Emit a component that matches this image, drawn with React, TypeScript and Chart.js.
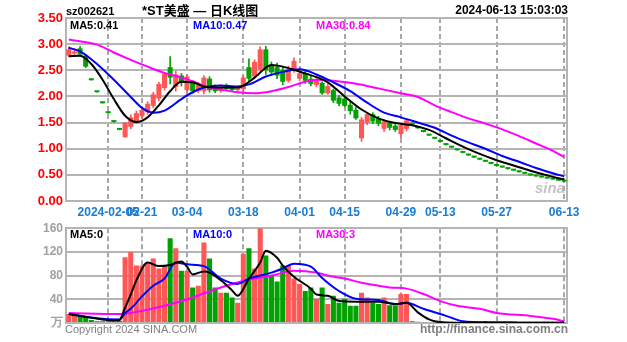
import React, { useEffect, useRef } from 'react';
import { Chart, registerables } from 'chart.js';

Chart.register(...registerables);

const dates = ['01-25','01-26','01-29','01-30','01-31','02-01','02-02','02-05','02-06','02-07','02-08','02-19','02-20','02-21','02-22','02-23','02-26','02-27','02-28','02-29','03-01','03-04','03-05','03-06','03-07','03-08','03-11','03-12','03-13','03-14','03-15','03-18','03-19','03-20','03-21','03-22','03-25','03-26','03-27','03-28','03-29','04-01','04-02','04-03','04-08','04-09','04-10','04-11','04-12','04-15','04-16','04-17','04-18','04-19','04-22','04-23','04-24','04-25','04-26','04-29','04-30','05-06','05-07','05-08','05-09','05-10','05-13','05-14','05-15','05-16','05-17','05-20','05-21','05-22','05-23','05-24','05-27','05-28','05-29','05-30','05-31','06-03','06-04','06-05','06-06','06-07','06-11','06-12','06-13'];

const labeledDates = ['02-05','02-21','03-04','03-18','04-01','04-15','04-29','05-13','05-27','06-13'];
const labeledTexts = ['2024-02-05','02-21','03-04','03-18','04-01','04-15','04-29','05-13','05-27','06-13'];

const opens = [2.78,2.82,2.92,2.78,2.31,2.08,1.87,1.68,1.51,1.36,1.22,1.42,1.52,1.62,1.70,1.82,1.96,2.16,2.56,2.18,2.40,2.12,2.26,2.10,2.10,2.34,2.18,2.10,2.20,2.17,2.12,2.14,2.56,2.38,2.52,2.90,2.60,2.56,2.50,2.30,2.50,2.34,2.44,2.34,2.22,2.26,2.06,2.12,1.98,1.96,1.84,1.74,1.20,1.50,1.66,1.58,1.38,1.50,1.44,1.28,1.38,1.46,1.39,1.32,1.25,1.19,1.13,1.07,1.02,0.97,0.92,0.87,0.83,0.79,0.75,0.71,0.67,0.64,0.61,0.58,0.55,0.52,0.49,0.47,0.45,0.43,0.41,0.39,0.37];
const highs = [2.95,2.92,2.96,2.80,2.31,2.08,1.87,1.68,1.51,1.36,1.50,1.65,1.72,1.78,1.90,2.08,2.27,2.46,2.76,2.48,2.44,2.42,2.30,2.27,2.40,2.38,2.22,2.22,2.24,2.20,2.19,2.40,2.72,2.70,2.95,2.96,2.66,2.64,2.56,2.58,2.74,2.56,2.48,2.40,2.34,2.28,2.24,2.14,2.02,2.00,1.90,1.80,1.60,1.69,1.69,1.62,1.56,1.52,1.48,1.48,1.56,1.46,1.39,1.32,1.25,1.19,1.13,1.07,1.02,0.97,0.92,0.87,0.83,0.79,0.75,0.71,0.67,0.64,0.61,0.58,0.55,0.52,0.49,0.47,0.45,0.43,0.41,0.39,0.37];
const lows = [2.76,2.78,2.78,2.55,2.31,2.08,1.87,1.68,1.51,1.36,1.22,1.38,1.48,1.58,1.66,1.78,1.92,2.12,2.24,2.10,2.20,2.08,2.06,2.07,2.05,2.08,2.07,2.08,2.12,2.10,2.10,2.10,2.28,2.35,2.48,2.42,2.40,2.34,2.22,2.27,2.46,2.30,2.25,2.20,2.18,2.04,2.04,1.88,1.82,1.80,1.66,1.56,1.14,1.46,1.48,1.44,1.33,1.36,1.33,1.21,1.34,1.46,1.39,1.32,1.25,1.19,1.13,1.07,1.02,0.97,0.92,0.87,0.83,0.79,0.75,0.71,0.67,0.64,0.61,0.58,0.55,0.52,0.49,0.47,0.45,0.43,0.41,0.39,0.37];
const closes = [2.90,2.86,2.80,2.57,2.31,2.08,1.87,1.68,1.51,1.36,1.50,1.60,1.68,1.74,1.86,2.04,2.24,2.44,2.36,2.42,2.26,2.38,2.10,2.22,2.36,2.12,2.10,2.18,2.14,2.12,2.16,2.36,2.34,2.66,2.90,2.50,2.46,2.40,2.28,2.52,2.68,2.44,2.30,2.24,2.30,2.06,2.20,1.92,1.86,1.82,1.72,1.58,1.56,1.66,1.52,1.48,1.52,1.40,1.36,1.45,1.54,1.46,1.39,1.32,1.25,1.19,1.13,1.07,1.02,0.97,0.92,0.87,0.83,0.79,0.75,0.71,0.67,0.64,0.61,0.58,0.55,0.52,0.49,0.47,0.45,0.43,0.41,0.39,0.37];
const volumes = [15,14,12,11,5,3,3,3,2,4,111,120,97,97,100,109,92,95,143,126,88,88,60,63,136,109,60,51,51,43,34,117,126,92,160,114,80,70,97,97,75,66,54,60,41,60,32,46,34,41,29,29,51,43,34,32,43,30,30,49,49,3,2,1,0.8,0.6,0.5,0.5,0.5,0.5,0.6,0.6,0.8,1.2,1.5,1,0.6,0.5,0.5,0.5,0.5,0.4,0.4,0.4,0.4,0.4,0.3,0.3,0.3];

// moving-average lines: [day index, value]
const ma5Price = [[0,2.77],[2,2.78],[4,2.62],[6,2.32],[8,1.95],[10,1.63],[12,1.51],[14,1.60],[16,1.83],[18,2.10],[20,2.28],[22,2.27],[24,2.19],[27,2.17],[30,2.17],[33,2.36],[36,2.60],[38,2.57],[40,2.51],[42,2.44],[44,2.37],[46,2.27],[49,2.00],[52,1.75],[55,1.58],[58,1.49],[61,1.45],[64,1.36],[67,1.20],[70,1.04],[73,0.90],[76,0.78],[79,0.68],[82,0.58],[85,0.49],[88,0.41]];
const ma10Price = [[0,2.93],[2,2.86],[5,2.62],[8,2.32],[11,1.99],[13,1.78],[15,1.69],[17,1.73],[20,1.95],[22,2.08],[24,2.17],[27,2.21],[30,2.19],[32,2.23],[35,2.38],[38,2.47],[41,2.52],[44,2.42],[47,2.27],[50,2.10],[53,1.88],[56,1.69],[59,1.60],[62,1.50],[65,1.40],[68,1.25],[71,1.12],[74,1.00],[77,0.86],[80,0.75],[83,0.63],[86,0.53],[88,0.47]];
const ma30Price = [[0,3.09],[5,2.99],[8,2.84],[11,2.70],[14,2.57],[17,2.45],[20,2.36],[22,2.29],[24,2.20],[27,2.13],[30,2.08],[33,2.06],[36,2.10],[39,2.18],[42,2.28],[44,2.32],[47,2.30],[50,2.26],[53,2.20],[56,2.13],[59,2.06],[62,1.99],[65,1.83],[68,1.70],[71,1.58],[74,1.48],[77,1.37],[80,1.24],[83,1.10],[86,0.96],[88,0.84]];
const ma5Vol = [[0,15],[2,12],[4,9],[6,6],[8,4],[9,5],[10,26],[11,48],[12,72],[14,102],[16,96],[18,98],[20,104],[21,95],[22,82],[24,87],[25,85],[27,72],[29,55],[30,46],[32,75],[34,102],[35,122],[37,110],[38,97],[40,78],[43,58],[44,48],[46,46],[48,37],[51,36],[55,36],[58,32],[60,34],[62,18],[64,6],[65,3],[67,1],[70,0.6],[75,0.8],[80,0.5],[85,0.4],[88,0.3]];
const ma10Vol = [[0,15],[5,8],[9,6],[10,17],[11,24],[13,45],[15,63],[17,75],[19,102],[21,99],[24,96],[27,75],[30,66],[32,75],[36,85],[38,92],[40,100],[43,95],[45,76],[48,54],[51,41],[55,39],[58,32],[60,34],[63,24],[67,12],[70,3],[75,1],[80,0.6],[88,0.4]];
const ma30Vol = [[0,17],[9,15],[11,17],[17,29],[22,43],[27,60],[31,71],[36,80],[40,88],[44,85],[46,80],[49,75],[52,68],[55,63],[57,60],[60,58],[63,49],[66,37],[69,29],[73,24],[76,17],[82,12],[86,7],[88,3]];

const GRID = '#b4b4b4';
const VGRID = '#a8a8a8';
const UP = '#ff5656';
const DOWN = '#00a200';
const AXIS_BLUE = '#1a7bd0';
const FONT = '"Liberation Sans", Arial, sans-serif';

const candleColors = closes.map((c, i) => {
  const o = opens[i];
  if (c > o) return UP;
  if (c < o) return DOWN;
  return i > 0 && c < closes[i - 1] ? DOWN : UP;
});

function toPoints(s: number[][]) {
  return s.map(([i, v]) => ({ x: dates[i], y: v }));
}

function xScale(height: number, showLabels: boolean): any {
  return {
    type: 'category',
    position: 'bottom',
    offset: true,
    afterBuildTicks: (scale: any) => {
      scale.ticks = scale.ticks.filter((t: any) => labeledDates.includes(dates[t.value]));
    },
    grid: {
      display: true,
      drawOnChartArea: true,
      offset: false,
      lineWidth: 2,
      drawTicks: false,
      color: VGRID,
    },
    border: { display: false, dash: [5, 3] },
    ticks: {
      autoSkip: false,
      maxRotation: 0,
      minRotation: 0,
      padding: 4,
      color: AXIS_BLUE,
      font: { family: FONT, size: 12, weight: 'bold' },
      callback: (value: any) => {
        const k = labeledDates.indexOf(dates[Number(value)]);
        if (k < 0 || !showLabels) return '';
        return labeledTexts[k];
      },
    },
    afterFit: (s: any) => { s.height = height; },
  };
}

function maLine(label: string, samples: number[][], color: string): any {
  return {
    type: 'line',
    label,
    data: toPoints(samples),
    borderColor: color,
    backgroundColor: color,
    borderWidth: 2,
    pointRadius: 0,
    cubicInterpolationMode: 'monotone',
    order: 0,
  };
}

function rightBorder(max: number): any {
  return {
    position: 'right',
    min: 0,
    max,
    grid: { drawOnChartArea: false, drawTicks: false },
    ticks: { display: false },
    border: { display: true, color: GRID, width: 2 },
    afterFit: (s: any) => { s.width = 0; },
  };
}

function T(props: { x: number; y: number; text: string; color: string; size: number; bold?: boolean; right?: boolean; italic?: boolean; family?: string }) {
  const { x, y, text, color, size, bold, right, italic, family } = props;
  return (
    <div
      style={{
        position: 'absolute',
        left: right ? undefined : x,
        right: right ? 627 - x : undefined,
        top: y,
        fontSize: size,
        lineHeight: `${size}px`,
        fontWeight: bold ? 'bold' : 'normal',
        fontStyle: italic ? 'italic' : 'normal',
        fontFamily: family || FONT,
        color,
        whiteSpace: 'nowrap',
      }}
    >
      {text}
    </div>
  );
}

export default function App() {
  const priceRef = useRef<HTMLCanvasElement>(null);
  const volRef = useRef<HTMLCanvasElement>(null);

  useEffect(() => {
    Chart.defaults.font.family = FONT;
    const price = new Chart(priceRef.current as HTMLCanvasElement, {
      type: 'bar',
      data: {
        labels: dates,
        datasets: [
          maLine('MA5', ma5Price, '#000000'),
          maLine('MA10', ma10Price, '#0000ff'),
          maLine('MA30', ma30Price, '#ff00ff'),
          {
            type: 'bar',
            label: 'body',
            data: opens.map((o, i) => [o, closes[i]]),
            backgroundColor: candleColors,
            barPercentage: 0.9,
            categoryPercentage: 1,
            minBarLength: 2,
            grouped: false,
            order: 1,
          } as any,
          {
            type: 'bar',
            label: 'wick',
            data: lows.map((l, i) => [l, highs[i]]),
            backgroundColor: candleColors,
            barThickness: 1,
            grouped: false,
            order: 2,
          } as any,
        ],
      },
      options: {
        responsive: false,
        animation: false,
        events: [],
        layout: { padding: { left: 0, right: 60, top: 18, bottom: 0 } },
        plugins: { legend: { display: false }, tooltip: { enabled: false } },
        scales: {
          x: xScale(17, true),
          y: {
            min: 0,
            max: 3.5,
            ticks: {
              stepSize: 0.5,
              color: '#ff0000',
              padding: 3,
              font: { family: FONT, size: 13, weight: 'bold' },
              callback: (v: any) => Number(v).toFixed(2),
            },
            grid: { color: GRID, lineWidth: 2, drawTicks: false },
            border: { display: true, color: GRID, width: 2 },
            afterFit: (s: any) => { s.width = 66; },
          } as any,
          y2: rightBorder(3.5),
        },
      } as any,
    });

    const vol = new Chart(volRef.current as HTMLCanvasElement, {
      type: 'bar',
      data: {
        labels: dates,
        datasets: [
          maLine('MA5', ma5Vol, '#000000'),
          maLine('MA10', ma10Vol, '#0000ff'),
          maLine('MA30', ma30Vol, '#ff00ff'),
          {
            type: 'bar',
            label: 'vol',
            data: volumes,
            backgroundColor: candleColors,
            barPercentage: 0.9,
            categoryPercentage: 1,
            minBarLength: 1,
            order: 1,
          } as any,
        ],
      },
      options: {
        responsive: false,
        animation: false,
        events: [],
        layout: { padding: { left: 0, right: 60, top: 10, bottom: 0 } },
        plugins: { legend: { display: false }, tooltip: { enabled: false } },
        scales: {
          x: xScale(19, false),
          y: {
            min: 0,
            max: 160,
            ticks: {
              stepSize: 40,
              color: '#a0a0a0',
              padding: 3,
              font: { family: FONT, size: 12, weight: 'bold' },
              callback: (v: any) => (Number(v) === 0 ? '万' : String(v)),
            },
            grid: { color: GRID, lineWidth: 2, drawTicks: false },
            border: { display: true, color: GRID, width: 2 },
            afterFit: (s: any) => { s.width = 66; },
          } as any,
          y2: rightBorder(160),
        },
      } as any,
    });

    return () => {
      price.destroy();
      vol.destroy();
    };
  }, []);

  return (
    <div style={{ position: 'fixed', left: 0, top: 0, width: 627, height: 342, background: '#ffffff', overflow: 'hidden' }}>
      <canvas ref={priceRef} width={627} height={218} style={{ position: 'absolute', left: 0, top: 0, width: 627, height: 218 }} />
      <canvas ref={volRef} width={627} height={124} style={{ position: 'absolute', left: 0, top: 218, width: 627, height: 124 }} />
      <T x={66} y={6} text="sz002621" color="#000" size={11} bold />
      <T x={142} y={4} text="*ST美盛 — 日K线图" color="#000" size={13} bold family={'"Liberation Sans", "Noto Sans CJK SC", sans-serif'} />
      <T x={568} y={4} text="2024-06-13 15:03:03" color="#000" size={12} bold right />
      <T x={70} y={20} text="MA5:0.41" color="#000" size={11} bold />
      <T x={193} y={20} text="MA10:0.47" color="#0000ff" size={11} bold />
      <T x={316} y={20} text="MA30:0.84" color="#ff00ff" size={11} bold />
      <T x={70} y={229} text="MA5:0" color="#000" size={11} bold />
      <T x={193} y={229} text="MA10:0" color="#0000ff" size={11} bold />
      <T x={316} y={229} text="MA30:3" color="#ff00ff" size={11} bold />
      <T x={535} y={180} text="sina" color="rgba(170,170,170,0.7)" size={15} bold italic />
      <T x={65} y={324} text="Copyright 2024 SINA.COM" color="#808080" size={11} />
      <T x={568} y={323} text="http://finance.sina.com.cn" color="#808080" size={12} bold right />
    </div>
  );
}
